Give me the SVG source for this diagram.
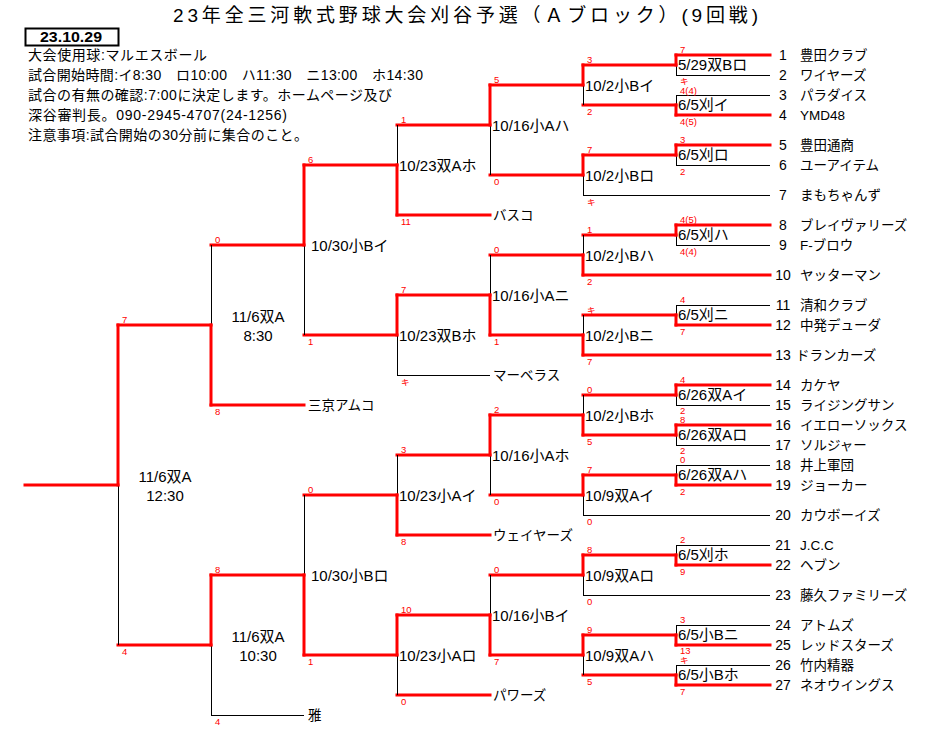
<svg xmlns="http://www.w3.org/2000/svg" width="932" height="744" viewBox="0 0 932 744">
<style>
text{font-family:"Liberation Sans","Noto Sans CJK JP",sans-serif;fill:#000}
.r{stroke:#ff0000;stroke-width:3;fill:none;stroke-linecap:square}
.k{stroke:#000;stroke-width:1;fill:none}
.title{font-size:19px}
.info{font-size:14px}
.num{font-size:14px;text-anchor:middle}
.name{font-size:13.5px}
.lbl{font-size:15px}
.ctr{font-size:15px;text-anchor:middle}
.sc{font-size:9.5px;fill:#ff0000}
.ki{font-size:8.5px;fill:#ff0000}
</style>
<rect width="932" height="744" fill="#fff"/>

<g id="header">
<text class="title" x="173" y="22" textLength="585" lengthAdjust="spacing">23年全三河軟式野球大会刈谷予選（Ａブロック）(9回戦)</text>
<rect x="25.5" y="28.5" width="93" height="17" fill="none" stroke="#000" stroke-width="2"/>
<text x="40" y="42" font-size="14" font-weight="bold" textLength="62" lengthAdjust="spacingAndGlyphs">23.10.29</text>
<text class="info" x="28" y="60" textLength="179">大会使用球:マルエスボール</text>
<text class="info" x="28" y="80" textLength="395">試合開始時間:イ8:30　ロ10:00　ハ11:30　ニ13:00　ホ14:30</text>
<text class="info" x="28" y="100" textLength="364">試合の有無の確認:7:00に決定します。ホームページ及び</text>
<text class="info" x="28" y="120" textLength="259">深谷審判長。090-2945-4707(24-1256)</text>
<text class="info" x="28" y="140" textLength="280">注意事項:試合開始の30分前に集合のこと。</text>
</g>

<g id="connectors">
<line class="r" x1="676" y1="55" x2="770" y2="55"/>
<line class="k" x1="676" y1="75.5" x2="770" y2="75.5"/>
<line class="k" x1="676" y1="95.5" x2="770" y2="95.5"/>
<line class="r" x1="676" y1="115" x2="770" y2="115"/>
<line class="r" x1="676" y1="145" x2="770" y2="145"/>
<line class="k" x1="676" y1="165.5" x2="770" y2="165.5"/>
<line class="k" x1="583" y1="195.5" x2="770" y2="195.5"/>
<line class="r" x1="676" y1="225" x2="770" y2="225"/>
<line class="k" x1="676" y1="245.5" x2="770" y2="245.5"/>
<line class="r" x1="583" y1="275" x2="770" y2="275"/>
<line class="k" x1="676" y1="305.5" x2="770" y2="305.5"/>
<line class="r" x1="676" y1="325" x2="770" y2="325"/>
<line class="r" x1="583" y1="355" x2="770" y2="355"/>
<line class="r" x1="676" y1="385" x2="770" y2="385"/>
<line class="k" x1="676" y1="405.5" x2="770" y2="405.5"/>
<line class="r" x1="676" y1="425" x2="770" y2="425"/>
<line class="k" x1="676" y1="445.5" x2="770" y2="445.5"/>
<line class="k" x1="676" y1="465.5" x2="770" y2="465.5"/>
<line class="r" x1="676" y1="485" x2="770" y2="485"/>
<line class="k" x1="583" y1="515.5" x2="770" y2="515.5"/>
<line class="k" x1="676" y1="545.5" x2="770" y2="545.5"/>
<line class="r" x1="676" y1="565" x2="770" y2="565"/>
<line class="k" x1="583" y1="595.5" x2="770" y2="595.5"/>
<line class="k" x1="676" y1="625.5" x2="770" y2="625.5"/>
<line class="r" x1="676" y1="645" x2="770" y2="645"/>
<line class="k" x1="676" y1="665.5" x2="770" y2="665.5"/>
<line class="r" x1="676" y1="685" x2="770" y2="685"/>
<line class="k" x1="676.5" y1="65" x2="676.5" y2="75"/><line class="r" x1="676" y1="55" x2="676" y2="65"/>
<line class="k" x1="676.5" y1="95" x2="676.5" y2="105"/><line class="r" x1="676" y1="105" x2="676" y2="115"/>
<line class="k" x1="676.5" y1="155" x2="676.5" y2="165"/><line class="r" x1="676" y1="145" x2="676" y2="155"/>
<line class="k" x1="676.5" y1="235" x2="676.5" y2="245"/><line class="r" x1="676" y1="225" x2="676" y2="235"/>
<line class="k" x1="676.5" y1="305" x2="676.5" y2="315"/><line class="r" x1="676" y1="315" x2="676" y2="325"/>
<line class="k" x1="676.5" y1="395" x2="676.5" y2="405"/><line class="r" x1="676" y1="385" x2="676" y2="395"/>
<line class="k" x1="676.5" y1="435" x2="676.5" y2="445"/><line class="r" x1="676" y1="425" x2="676" y2="435"/>
<line class="k" x1="676.5" y1="465" x2="676.5" y2="475"/><line class="r" x1="676" y1="475" x2="676" y2="485"/>
<line class="k" x1="676.5" y1="545" x2="676.5" y2="555"/><line class="r" x1="676" y1="555" x2="676" y2="565"/>
<line class="k" x1="676.5" y1="625" x2="676.5" y2="635"/><line class="r" x1="676" y1="635" x2="676" y2="645"/>
<line class="k" x1="676.5" y1="665" x2="676.5" y2="675"/><line class="r" x1="676" y1="675" x2="676" y2="685"/>
<line class="r" x1="583" y1="65" x2="676" y2="65"/>
<line class="r" x1="583" y1="105" x2="676" y2="105"/>
<line class="r" x1="583" y1="155" x2="676" y2="155"/>
<line class="r" x1="583" y1="235" x2="676" y2="235"/>
<line class="r" x1="583" y1="315" x2="676" y2="315"/>
<line class="r" x1="583" y1="395" x2="676" y2="395"/>
<line class="r" x1="583" y1="435" x2="676" y2="435"/>
<line class="r" x1="583" y1="475" x2="676" y2="475"/>
<line class="r" x1="583" y1="555" x2="676" y2="555"/>
<line class="r" x1="583" y1="635" x2="676" y2="635"/>
<line class="r" x1="583" y1="675" x2="676" y2="675"/>
<line class="r" x1="583" y1="65" x2="583" y2="85"/><line class="k" x1="583.5" y1="85" x2="583.5" y2="105"/>
<line class="r" x1="583" y1="155" x2="583" y2="175"/><line class="k" x1="583.5" y1="175" x2="583.5" y2="195"/>
<line class="k" x1="583.5" y1="235" x2="583.5" y2="255"/><line class="r" x1="583" y1="255" x2="583" y2="275"/>
<line class="k" x1="583.5" y1="315" x2="583.5" y2="335"/><line class="r" x1="583" y1="335" x2="583" y2="355"/>
<line class="k" x1="583.5" y1="395" x2="583.5" y2="415"/><line class="r" x1="583" y1="415" x2="583" y2="435"/>
<line class="r" x1="583" y1="475" x2="583" y2="495"/><line class="k" x1="583.5" y1="495" x2="583.5" y2="515"/>
<line class="r" x1="583" y1="555" x2="583" y2="575"/><line class="k" x1="583.5" y1="575" x2="583.5" y2="595"/>
<line class="r" x1="583" y1="635" x2="583" y2="655"/><line class="k" x1="583.5" y1="655" x2="583.5" y2="675"/>
<line class="r" x1="490" y1="85" x2="583" y2="85"/>
<line class="r" x1="490" y1="175" x2="583" y2="175"/>
<line class="r" x1="490" y1="255" x2="583" y2="255"/>
<line class="r" x1="490" y1="335" x2="583" y2="335"/>
<line class="r" x1="490" y1="415" x2="583" y2="415"/>
<line class="r" x1="490" y1="495" x2="583" y2="495"/>
<line class="r" x1="490" y1="575" x2="583" y2="575"/>
<line class="r" x1="490" y1="655" x2="583" y2="655"/>
<line class="r" x1="490" y1="85" x2="490" y2="125"/><line class="k" x1="490.5" y1="125" x2="490.5" y2="175"/>
<line class="k" x1="490.5" y1="255" x2="490.5" y2="295"/><line class="r" x1="490" y1="295" x2="490" y2="335"/>
<line class="r" x1="490" y1="415" x2="490" y2="455"/><line class="k" x1="490.5" y1="455" x2="490.5" y2="495"/>
<line class="k" x1="490.5" y1="575" x2="490.5" y2="615"/><line class="r" x1="490" y1="615" x2="490" y2="655"/>
<line class="r" x1="397" y1="125" x2="490" y2="125"/>
<line class="r" x1="397" y1="215" x2="490" y2="215"/>
<line class="r" x1="397" y1="295" x2="490" y2="295"/>
<line class="k" x1="397" y1="375.5" x2="490" y2="375.5"/>
<line class="r" x1="397" y1="455" x2="490" y2="455"/>
<line class="r" x1="397" y1="535" x2="490" y2="535"/>
<line class="r" x1="397" y1="615" x2="490" y2="615"/>
<line class="r" x1="397" y1="695" x2="490" y2="695"/>
<line class="k" x1="397.5" y1="125" x2="397.5" y2="165"/><line class="r" x1="397" y1="165" x2="397" y2="215"/>
<line class="r" x1="397" y1="295" x2="397" y2="335"/><line class="k" x1="397.5" y1="335" x2="397.5" y2="375"/>
<line class="k" x1="397.5" y1="455" x2="397.5" y2="495"/><line class="r" x1="397" y1="495" x2="397" y2="535"/>
<line class="r" x1="397" y1="615" x2="397" y2="655"/><line class="k" x1="397.5" y1="655" x2="397.5" y2="695"/>
<line class="r" x1="304" y1="165" x2="397" y2="165"/>
<line class="r" x1="304" y1="335" x2="397" y2="335"/>
<line class="r" x1="304" y1="495" x2="397" y2="495"/>
<line class="r" x1="304" y1="655" x2="397" y2="655"/>
<line class="r" x1="304" y1="165" x2="304" y2="245"/><line class="k" x1="304.5" y1="245" x2="304.5" y2="335"/>
<line class="k" x1="304.5" y1="495" x2="304.5" y2="575"/><line class="r" x1="304" y1="575" x2="304" y2="655"/>
<line class="r" x1="211" y1="245" x2="304" y2="245"/>
<line class="r" x1="211" y1="405" x2="304" y2="405"/>
<line class="r" x1="211" y1="575" x2="304" y2="575"/>
<line class="k" x1="211" y1="715.5" x2="304" y2="715.5"/>
<line class="k" x1="211.5" y1="245" x2="211.5" y2="325"/><line class="r" x1="211" y1="325" x2="211" y2="405"/>
<line class="r" x1="211" y1="575" x2="211" y2="645"/><line class="k" x1="211.5" y1="645" x2="211.5" y2="715"/>
<line class="r" x1="118" y1="325" x2="211" y2="325"/>
<line class="r" x1="118" y1="645" x2="211" y2="645"/>
<line class="r" x1="118" y1="325" x2="118" y2="485"/><line class="k" x1="118.5" y1="485" x2="118.5" y2="645"/>
<line class="r" x1="25" y1="485" x2="118" y2="485"/>
</g>

<g id="teams">
<g id="team-1"><text class="num" x="783" y="60">1</text><text class="name" x="800" y="60">豊田クラブ</text></g>
<g id="team-2"><text class="num" x="783" y="80">2</text><text class="name" x="800" y="80">ワイヤーズ</text></g>
<g id="team-3"><text class="num" x="783" y="100">3</text><text class="name" x="800" y="100">パラダイス</text></g>
<g id="team-4"><text class="num" x="783" y="120">4</text><text class="name" x="800" y="120">YMD48</text></g>
<g id="team-5"><text class="num" x="783" y="150">5</text><text class="name" x="800" y="150">豊田通商</text></g>
<g id="team-6"><text class="num" x="783" y="170">6</text><text class="name" x="800" y="170">ユーアイテム</text></g>
<g id="team-7"><text class="num" x="783" y="200">7</text><text class="name" x="800" y="200">まもちゃんず</text></g>
<g id="team-8"><text class="num" x="783" y="230">8</text><text class="name" x="800" y="230">ブレイヴァリーズ</text></g>
<g id="team-9"><text class="num" x="783" y="250">9</text><text class="name" x="800" y="250">F-ブロウ</text></g>
<g id="team-10"><text class="num" x="783" y="280">10</text><text class="name" x="800" y="280">ヤッターマン</text></g>
<g id="team-11"><text class="num" x="783" y="310">11</text><text class="name" x="800" y="310">清和クラブ</text></g>
<g id="team-12"><text class="num" x="783" y="330">12</text><text class="name" x="800" y="330">中発デューダ</text></g>
<g id="team-13"><text class="num" x="783" y="360">13</text><text class="name" x="796" y="360">ドランカーズ</text></g>
<g id="team-14"><text class="num" x="783" y="390">14</text><text class="name" x="800" y="390">カケヤ</text></g>
<g id="team-15"><text class="num" x="783" y="410">15</text><text class="name" x="800" y="410">ライジングサン</text></g>
<g id="team-16"><text class="num" x="783" y="430">16</text><text class="name" x="800" y="430">イエローソックス</text></g>
<g id="team-17"><text class="num" x="783" y="450">17</text><text class="name" x="800" y="450">ソルジャー</text></g>
<g id="team-18"><text class="num" x="783" y="470">18</text><text class="name" x="800" y="470">井上軍団</text></g>
<g id="team-19"><text class="num" x="783" y="490">19</text><text class="name" x="800" y="490">ジョーカー</text></g>
<g id="team-20"><text class="num" x="783" y="520">20</text><text class="name" x="800" y="520">カウボーイズ</text></g>
<g id="team-21"><text class="num" x="783" y="550">21</text><text class="name" x="800" y="550">J.C.C</text></g>
<g id="team-22"><text class="num" x="783" y="570">22</text><text class="name" x="800" y="570">ヘブン</text></g>
<g id="team-23"><text class="num" x="783" y="600">23</text><text class="name" x="800" y="600">藤久ファミリーズ</text></g>
<g id="team-24"><text class="num" x="783" y="630">24</text><text class="name" x="800" y="630">アトムズ</text></g>
<g id="team-25"><text class="num" x="783" y="650">25</text><text class="name" x="800" y="650">レッドスターズ</text></g>
<g id="team-26"><text class="num" x="783" y="670">26</text><text class="name" x="800" y="670">竹内精器</text></g>
<g id="team-27"><text class="num" x="783" y="690">27</text><text class="name" x="800" y="690">ネオウイングス</text></g>
<g id="team-basuko"><text class="name" x="493" y="220">バスコ</text></g>
<g id="team-marvelous"><text class="name" x="493" y="380">マーベラス</text></g>
<g id="team-weiyazu"><text class="name" x="493" y="540">ウェイヤーズ</text></g>
<g id="team-powers"><text class="name" x="493" y="700">パワーズ</text></g>
<g id="team-sankyo"><text class="name" x="308" y="410">三京アムコ</text></g>
<g id="team-miyabi"><text class="name" x="308" y="720">雅</text></g>
</g>

<g id="matches">
<g id="m-r1-1"><text class="lbl" x="678" y="70">5/29双Bロ</text><text class="sc" x="680" y="53">7</text><text class="ki" x="680" y="84">キ</text></g>
<g id="m-r1-2"><text class="lbl" x="678" y="110">6/5刈イ</text><text class="sc" x="680" y="94">4(4)</text><text class="sc" x="680" y="125">4(5)</text></g>
<g id="m-r1-3"><text class="lbl" x="678" y="160">6/5刈ロ</text><text class="sc" x="680" y="143">3</text><text class="sc" x="680" y="175">2</text></g>
<g id="m-r1-4"><text class="lbl" x="678" y="240">6/5刈ハ</text><text class="sc" x="680" y="223">4(5)</text><text class="sc" x="680" y="255">4(4)</text></g>
<g id="m-r1-5"><text class="lbl" x="678" y="320">6/5刈ニ</text><text class="sc" x="680" y="303">4</text><text class="sc" x="680" y="335">7</text></g>
<g id="m-r1-6"><text class="lbl" x="678" y="400">6/26双Aイ</text><text class="sc" x="680" y="383">4</text><text class="sc" x="680" y="414">2</text></g>
<g id="m-r1-7"><text class="lbl" x="678" y="440">6/26双Aロ</text><text class="sc" x="680" y="423">8</text><text class="sc" x="680" y="454">2</text></g>
<g id="m-r1-8"><text class="lbl" x="678" y="480">6/26双Aハ</text><text class="sc" x="680" y="463">0</text><text class="sc" x="680" y="495">2</text></g>
<g id="m-r1-9"><text class="lbl" x="678" y="560">6/5刈ホ</text><text class="sc" x="680" y="543">2</text><text class="sc" x="680" y="575">9</text></g>
<g id="m-r1-10"><text class="lbl" x="678" y="640">6/5小Bニ</text><text class="sc" x="680" y="623">3</text><text class="sc" x="680" y="654">13</text></g>
<g id="m-r1-11"><text class="lbl" x="678" y="680">6/5小Bホ</text><text class="ki" x="680" y="663">キ</text><text class="sc" x="680" y="695">7</text></g>

<g id="m-r2-1"><text class="lbl" x="585" y="91">10/2小Bイ</text><text class="sc" x="587" y="63">3</text><text class="sc" x="587" y="115">2</text></g>
<g id="m-r2-2"><text class="lbl" x="585" y="181">10/2小Bロ</text><text class="sc" x="587" y="153">7</text><text class="ki" x="587" y="205">キ</text></g>
<g id="m-r2-3"><text class="lbl" x="585" y="261">10/2小Bハ</text><text class="sc" x="587" y="233">1</text><text class="sc" x="587" y="285">2</text></g>
<g id="m-r2-4"><text class="lbl" x="585" y="341">10/2小Bニ</text><text class="ki" x="587" y="313">キ</text><text class="sc" x="587" y="365">7</text></g>
<g id="m-r2-5"><text class="lbl" x="585" y="421">10/2小Bホ</text><text class="sc" x="587" y="393">0</text><text class="sc" x="587" y="445">5</text></g>
<g id="m-r2-6"><text class="lbl" x="585" y="501">10/9双Aイ</text><text class="sc" x="587" y="473">7</text><text class="sc" x="587" y="525">0</text></g>
<g id="m-r2-7"><text class="lbl" x="585" y="581">10/9双Aロ</text><text class="sc" x="587" y="553">8</text><text class="sc" x="587" y="605">0</text></g>
<g id="m-r2-8"><text class="lbl" x="585" y="661">10/9双Aハ</text><text class="sc" x="587" y="633">9</text><text class="sc" x="587" y="685">5</text></g>

<g id="m-r3-1"><text class="lbl" x="492" y="131">10/16小Aハ</text><text class="sc" x="494" y="83">5</text><text class="sc" x="494" y="185">0</text></g>
<g id="m-r3-2"><text class="lbl" x="492" y="301">10/16小Aニ</text><text class="sc" x="494" y="253">0</text><text class="sc" x="494" y="345">1</text></g>
<g id="m-r3-3"><text class="lbl" x="492" y="461">10/16小Aホ</text><text class="sc" x="494" y="413">2</text><text class="sc" x="494" y="505">0</text></g>
<g id="m-r3-4"><text class="lbl" x="492" y="621">10/16小Bイ</text><text class="sc" x="494" y="573">0</text><text class="sc" x="494" y="665">7</text></g>

<g id="m-r4-1"><text class="lbl" x="399" y="171">10/23双Aホ</text><text class="sc" x="401" y="123">1</text><text class="sc" x="401" y="225">11</text></g>
<g id="m-r4-2"><text class="lbl" x="399" y="341">10/23双Bホ</text><text class="sc" x="401" y="293">7</text><text class="ki" x="401" y="385">キ</text></g>
<g id="m-r4-3"><text class="lbl" x="399" y="501">10/23小Aイ</text><text class="sc" x="401" y="453">3</text><text class="sc" x="401" y="545">8</text></g>
<g id="m-r4-4"><text class="lbl" x="399" y="661">10/23小Aロ</text><text class="sc" x="401" y="613">10</text><text class="sc" x="401" y="705">0</text></g>

<g id="m-r5-1"><text class="lbl" x="311" y="251">10/30小Bイ</text><text class="sc" x="308" y="163">6</text><text class="sc" x="308" y="345">1</text></g>
<g id="m-r5-2"><text class="lbl" x="311" y="581">10/30小Bロ</text><text class="sc" x="308" y="493">0</text><text class="sc" x="308" y="665">1</text></g>

<g id="m-r6-1"><text class="ctr" x="258" y="322">11/6双A</text><text class="ctr" x="258" y="341">8:30</text><text class="sc" x="215" y="243">0</text><text class="sc" x="215" y="415">8</text></g>
<g id="m-r6-2"><text class="ctr" x="258" y="642">11/6双A</text><text class="ctr" x="258" y="661">10:30</text><text class="sc" x="215" y="573">8</text><text class="sc" x="215" y="725">4</text></g>

<g id="m-final"><text class="ctr" x="165" y="482">11/6双A</text><text class="ctr" x="165" y="501">12:30</text><text class="sc" x="122" y="323">7</text><text class="sc" x="122" y="655">4</text></g>
</g>
</svg>
